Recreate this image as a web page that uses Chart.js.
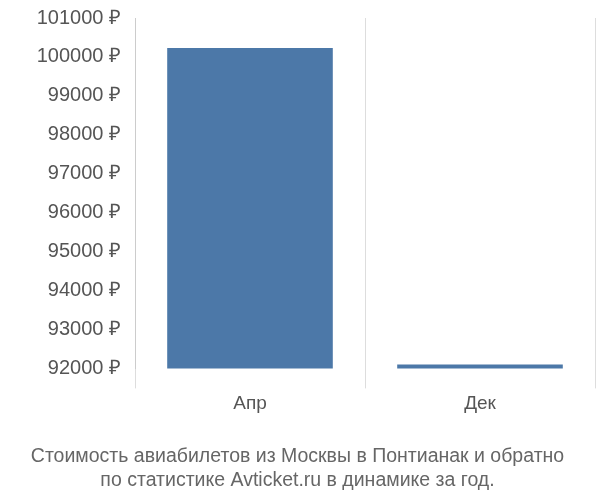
<!DOCTYPE html>
<html><head><meta charset="utf-8">
<script src="https://cdn.jsdelivr.net/npm/chart.js@4"></script>
<style>body{margin:0;background:#fff}#w{width:600px;height:500px}</style>
</head><body><div id="w"><canvas id="c"></canvas></div>
<script>
const categories = ["Апр", "Дек"];
const prices = [100230, 92100];
const tickValues = [92000,93000,94000,95000,96000,97000,98000,99000,100000,101000];
new Chart(document.getElementById('c'), {
  type: 'bar',
  data: { labels: categories, datasets: [{ data: prices, backgroundColor: '#4c78a8', barPercentage: 0.72, categoryPercentage: 1 }] },
  options: {
    responsive: true, maintainAspectRatio: false, animation: false,
    layout: { padding: { top: 4, right: 5, bottom: 8, left: 0 } },
    plugins: { legend: { display: false },
      title: { display: true, position: 'bottom', text: ['Стоимость авиабилетов из Москвы в Понтианак и обратно', 'по статистике Avticket.ru в динамике за год.'],
        color: '#666', font: { family: 'Liberation Sans, Arial', size: 19.5, weight: 'normal' }, lineHeight: 1.3, padding: { top: 26 } } },
    scales: {
      x: { grid: { color: '#ddd', offset: true, tickLength: 20 }, border: { display: false },
        ticks: { color: '#555', padding: 4, font: { family: 'Liberation Sans, Arial', size: 19 } } },
      y: { min: 92000, max: 101000,
        afterBuildTicks: a => { a.ticks = tickValues.map(v => ({ value: v })); },
        afterFit: a => { a.width = 135; },
        grid: { display: false, drawTicks: true, tickLength: 8 }, border: { color: '#ccc' },
        ticks: { color: '#555', padding: 6, font: { family: 'Liberation Sans, Arial', size: 20 }, callback: v => v + ' ₽' } }
    }
  }
});
</script></body></html>
